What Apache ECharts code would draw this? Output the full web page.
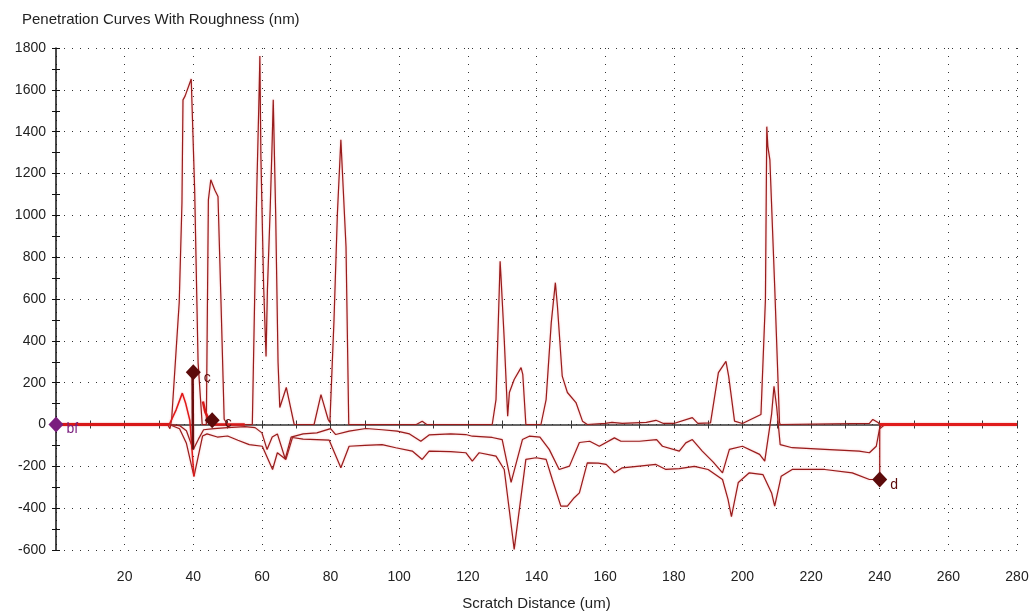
<!DOCTYPE html>
<html><head><meta charset="utf-8">
<script src="https://cdn.jsdelivr.net/npm/echarts@6/dist/echarts.min.js"></script>
<style>html,body{margin:0;padding:0;background:#fff}#c{width:1035px;height:616px}</style>
</head><body><div id="c"></div>
<script>
const titleText = "Penetration Curves With Roughness (nm)";
const xAxisName = "Scratch Distance (um)";
const xTicks = [20,40,60,80,100,120,140,160,180,200,220,240,260,280];
const yTicks = [-600,-400,-200,0,200,400,600,800,1000,1200,1400,1600,1800];

// Top curve (roughness / penetration peaks)
const curveA = [[0,0],[32.5,0],[33.2,-20],[33.7,25],[35.9,583],[36.7,1060],[37,1552],[37.6,1570],[39.4,1652],[40.4,1122],[41.4,296],[42.6,0],[43.8,0],[44.4,1074],[45.1,1170],[46.3,1120],[47.2,1090],[48,630],[49,25],[50,0],[57.2,0],[58,707],[58.5,1122],[59.2,1600],[59.4,1762],[59.7,1280],[60.5,659],[61.2,325],[61.6,645],[62.4,1027],[63,1361],[63.3,1552],[64,1012],[64.7,296],[65.2,81],[67.1,177],[69.4,0],[75.2,0],[77.2,143],[79.3,24],[79.8,10],[81,500],[82,1012],[83,1361],[83.5,1370],[84.5,850],[85.3,0],[105,0],[106.7,16],[108,0],[127.1,0],[128.2,119],[129.4,780],[129.7,692],[130.6,406],[131.6,40],[132.1,153],[133.5,215],[135.5,272],[136,240],[136.9,0],[141.3,0],[142.8,119],[144.3,487],[145.5,678],[146.1,565],[147.5,231],[149,153],[151.5,105],[153.4,16],[154.8,0],[160,5],[162,10],[165,5],[172,10],[174.8,20],[177,5],[180,5],[185.4,33],[187,5],[190.7,8],[193,248],[195.2,302],[196,230],[197.7,16],[200,5],[205.4,48],[206.7,597],[207.1,1424],[207.4,1330],[208,1265],[209.4,660],[210.8,10],[211,0],[237,5],[238,24],[239.5,10],[240,0],[280,0]];

// Middle curve
const curveB = [[0,0],[33,0],[36,-5],[38,-30],[40,-120],[41.5,-70],[43,-25],[46,-20],[50,-15],[55,-10],[58,-15],[60,-40],[61.5,-120],[63,-60],[64.5,-45],[66.8,-165],[68.5,-60],[72,-45],[76,-40],[80,-20],[81.5,-48],[85.4,-32],[90.3,-19],[95,-25],[99.4,-32],[103,-45],[106.3,-80],[108.7,-50],[115,-45],[119.4,-48],[121.3,-56],[127.1,-62],[130,-72],[132.6,-277],[135.9,-72],[137.9,-56],[141,-60],[143.7,-119],[146.6,-215],[149.6,-199],[152.5,-86],[155.5,-80],[158.3,-104],[162.7,-64],[164.6,-80],[170,-80],[175,-72],[176.7,-104],[181.6,-127],[183.5,-88],[185.4,-72],[188.3,-127],[191.5,-180],[194.2,-231],[196.2,-119],[200,-104],[205,-143],[206.5,-175],[208.5,50],[209.2,183],[210,80],[211,-96],[214.5,-111],[224,-119],[234,-127],[237,-135],[239,-104],[240,-16],[240.5,0]];

// Lower curve
const curveC = [[0,0],[33,0],[36,-20],[38,-90],[40.2,-248],[42.7,-55],[44,-45],[47,-60],[50,-55],[53,-75],[56.3,-96],[60.1,-104],[63.1,-215],[64.5,-135],[67,-167],[68.9,-62],[72,-70],[76,-72],[79.6,-75],[83,-207],[85.4,-104],[90,-100],[95,-96],[99,-111],[103.8,-127],[106.7,-167],[108.7,-127],[115,-130],[119.4,-135],[121.3,-175],[123.3,-135],[128.2,-151],[130.6,-215],[133.5,-597],[136.9,-167],[139.9,-159],[142.8,-167],[144.6,-263],[147.1,-390],[149,-390],[151,-350],[152.5,-327],[154.8,-183],[158,-185],[160.3,-191],[162.7,-231],[165,-207],[170,-199],[174.8,-191],[177.7,-215],[181.6,-211],[186,-200],[190,-215],[194.2,-263],[195.8,-358],[196.8,-440],[198.8,-277],[202,-231],[206,-240],[208.5,-327],[209.4,-390],[211.3,-247],[214.5,-215],[224,-215],[232,-231],[237,-263],[240,-263],[240,-20],[241.5,0]];

// Bright red baseline segments and features
const redStart = [[0,0],[33,0]];
const redEnd = [[240,0],[280,0]];
const redFeature1 = [[33,0],[35,70],[36.8,150],[37.8,100],[39,20],[40.2,-248]];
const redFeature2 = [[42.8,110],[43.5,60],[44.6,20],[46,0],[50,0],[55,0]];
const cDrop = [[39.8,250],[39.9,-120]];

// Event markers
const markB = [[0,0]];
const markC = [[40,250]];
const markE = [[45.5,20]];
const markD = [[240,-263]];
const markLabels = ["bf","c","c","d"];

const chart = echarts.init(document.getElementById('c'), null, {renderer:'canvas'});
const font = 'Liberation Sans, Arial, sans-serif';
const curveColor = '#981c1c';
function line(data, color, width, z){
  return {type:'line', data:data, showSymbol:false, symbol:'none',
    lineStyle:{color:color,width:width, shadowColor:'rgba(235,90,90,0.45)', shadowBlur:2},
    itemStyle:{color:color}, z:z||3, animation:false, xAxisIndex:0, yAxisIndex:0};
}
function marker(data, color, label, pos, offset){
  return {type:'scatter', data:data, symbol:'diamond', symbolSize:[15,16], itemStyle:{color:color, opacity:1}, z:10, animation:false,
    label:{show:true, formatter:label, position:pos||'right', offset:offset||[0,4], color:color, fontFamily:font, fontSize:14}};
}
const option = {
  backgroundColor:'#fff',
  animation:false,
  title:{text:titleText, left:17, top:7, textStyle:{fontFamily:font, fontSize:15, fontWeight:'normal', color:'#222'}},
  grid:{left:56, right:18, top:48, bottom:65},
  xAxis:[
    {type:'value', min:0, max:280, interval:20, position:'bottom',
     axisLine:{show:false, onZero:false}, axisTick:{show:false},
     axisLabel:{fontFamily:font, fontSize:14, color:'#222', margin:20, formatter:v=> v===0?'':String(v)},
     splitLine:{show:true, lineStyle:{color:'#333', type:[1,7], width:1}},
     name:xAxisName, nameLocation:'middle', nameGap:46, nameTextStyle:{fontFamily:font, fontSize:15, color:'#222'}},
    {type:'value', min:0, max:280, interval:10, position:'bottom',
     axisLine:{show:true, onZero:true, lineStyle:{color:'#333', width:1.5}},
     axisTick:{show:true, length:4, lineStyle:{color:'#333'}}, axisLabel:{show:false}, splitLine:{show:false}},
    {type:'value', min:0, max:280, interval:10, position:'bottom',
     axisLine:{show:false, onZero:true},
     axisTick:{show:true, inside:true, length:4, lineStyle:{color:'#333'}}, axisLabel:{show:false}, splitLine:{show:false}}
  ],
  yAxis:[
    {type:'value', min:-600, max:1800, interval:200,
     axisLine:{show:true, onZero:false, lineStyle:{color:'#111', width:1.5}},
     axisTick:{show:true, length:4, lineStyle:{color:'#111'}},
     minorTick:{show:true, splitNumber:2, length:4, lineStyle:{color:'#111'}},
     axisLabel:{fontFamily:font, fontSize:14, color:'#222', margin:10, formatter:v=>String(v)},
     splitLine:{show:true, lineStyle:{color:'#333', type:[1,7], width:1}}},
    {type:'value', min:-600, max:1800, interval:200, position:'left',
     axisLine:{show:false, onZero:false},
     axisTick:{show:true, inside:true, length:4, lineStyle:{color:'#111'}},
     minorTick:{show:true, splitNumber:2, length:4, lineStyle:{color:'#111'}},
     axisLabel:{show:false}, splitLine:{show:false}}
  ],
  series:[
    line(curveC, curveColor, 1.2),
    line(curveB, curveColor, 1.2),
    line(curveA, curveColor, 1.2),
    line(redStart, '#d81818', 3, 4),
    line(redEnd, '#e01c1c', 3, 4),
    line(redFeature1, '#e01818', 1.5, 4),
    line(redFeature2, '#d81818', 2.5, 4),
    line(cDrop, '#6a0c0c', 2.5, 4),
    marker(markB, '#7a1f7e', markLabels[0], 'right', [-2,5]),
    marker(markC, '#5c0b0b', markLabels[1], 'right', [-2,6]),
    marker(markE, '#5c0b0b', markLabels[2], 'right', [0,3]),
    marker(markD, '#5c0b0b', markLabels[3], 'right', [-2,6])
  ]
};
chart.setOption(option);
</script>
</body></html>
